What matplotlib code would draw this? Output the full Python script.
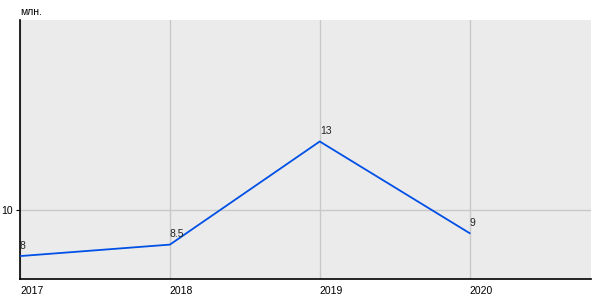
import matplotlib
matplotlib.use('Agg')
import matplotlib.pyplot as plt

# data
years = [2017, 2018, 2019, 2020]
values = [8, 8.5, 13, 9]
value_labels = ['8', '8.5', '13', '9']
unit_label = 'млн.'

plt.rcParams['font.family'] = ['Liberation Sans', 'DejaVu Sans']

fig = plt.figure(figsize=(6, 3), dpi=100)
ax = fig.add_axes([20 / 600, 21 / 300, 571 / 600, 259 / 300])
ax.set_facecolor('#ebebeb')

ax.plot(years, values, color='#0050e6', linewidth=1.3, zorder=3)
for x, y, lab in zip(years, values, value_labels):
    ax.annotate(lab, (x, y), xytext=(0, 4), textcoords='offset points',
                ha='left', va='bottom', fontsize=7.5, color='#222222')

ax.set_xlim(2017, 2020.81)
ax.set_ylim(7, 18.3)
ax.set_xticks(years)
ax.set_xticklabels([str(y) for y in years], ha='left')
ax.set_yticks([10])
ax.set_yticklabels(['10'])
ax.grid(True, color='#c8c8c8', linewidth=1)
ax.set_axisbelow(True)

ax.tick_params(axis='x', length=0, labelsize=7.5, pad=5)
ax.tick_params(axis='y', length=3, labelsize=7.5, pad=2)
for side in ['top', 'right']:
    ax.spines[side].set_visible(False)
for side in ['left', 'bottom']:
    ax.spines[side].set_color('black')
    ax.spines[side].set_linewidth(1.2)

fig.text(20 / 600, 1 - 12 / 300, unit_label, fontsize=7.5, ha='left', va='center')

fig.savefig('out.png', dpi=100)
